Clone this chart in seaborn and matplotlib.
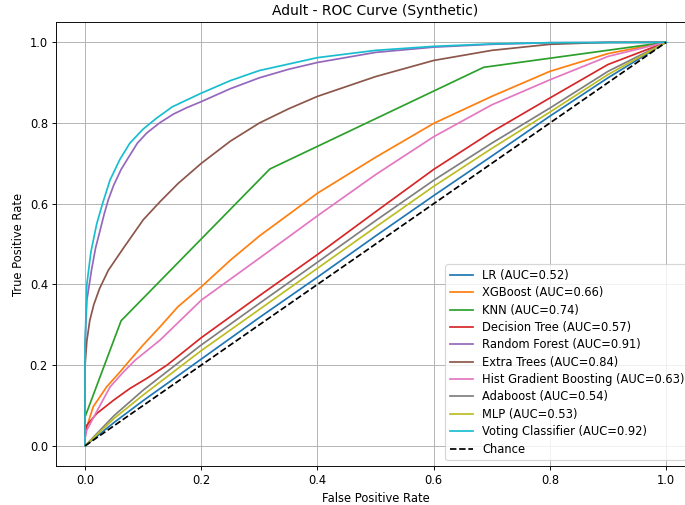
import matplotlib
matplotlib.use("Agg")
import matplotlib.pyplot as plt
import seaborn as sns

# ROC points (FPR, TPR)
lr_fpr = [0.0, 0.05, 0.1, 0.2, 0.3, 0.4, 0.5, 0.6, 0.7, 0.8, 0.9, 1.0]
lr_tpr = [0.0, 0.058, 0.112, 0.215, 0.318, 0.418, 0.52, 0.62, 0.718, 0.817, 0.912, 1.0]

xgb_fpr = [0.0, 0.0, 0.003, 0.014, 0.037, 0.06, 0.077, 0.1, 0.129, 0.16, 0.2, 0.25, 0.3, 0.4, 0.5, 0.6, 0.7, 0.8, 0.9, 1.0]
xgb_tpr = [0.0, 0.02, 0.047, 0.097, 0.146, 0.183, 0.212, 0.25, 0.295, 0.345, 0.394, 0.46, 0.52, 0.626, 0.715, 0.799, 0.866, 0.928, 0.972, 1.0]

knn_fpr = [0.0, 0.0, 0.062, 0.318, 0.686, 1.0]
knn_tpr = [0.0, 0.072, 0.31, 0.686, 0.938, 1.0]

dt_fpr = [0.0, 0.0, 0.003, 0.02, 0.049, 0.077, 0.106, 0.141, 0.2, 0.3, 0.4, 0.5, 0.6, 0.7, 0.8, 0.9, 1.0]
dt_tpr = [0.0, 0.03, 0.051, 0.08, 0.113, 0.142, 0.167, 0.2, 0.268, 0.372, 0.474, 0.58, 0.685, 0.778, 0.862, 0.945, 1.0]

rf_fpr = [0.0, 0.0, 0.003, 0.011, 0.018, 0.026, 0.033, 0.04, 0.049, 0.062, 0.077, 0.09, 0.106, 0.128, 0.152, 0.175, 0.2, 0.25, 0.3, 0.35, 0.4, 0.5, 0.6, 0.7, 0.8, 1.0]
rf_tpr = [0.0, 0.25, 0.36, 0.435, 0.49, 0.535, 0.575, 0.61, 0.645, 0.685, 0.72, 0.75, 0.775, 0.8, 0.822, 0.838, 0.853, 0.885, 0.912, 0.933, 0.95, 0.975, 0.988, 0.995, 0.999, 1.0]

et_fpr = [0.0, 0.0, 0.003, 0.008, 0.015, 0.025, 0.04, 0.066, 0.1, 0.129, 0.16, 0.2, 0.25, 0.3, 0.35, 0.4, 0.5, 0.6, 0.7, 0.8, 0.9, 1.0]
et_tpr = [0.0, 0.2, 0.26, 0.31, 0.35, 0.39, 0.435, 0.49, 0.56, 0.605, 0.65, 0.70, 0.755, 0.80, 0.835, 0.866, 0.915, 0.955, 0.98, 0.995, 1.0, 1.0]

hgb_fpr = [0.0, 0.0, 0.003, 0.02, 0.043, 0.066, 0.086, 0.129, 0.2, 0.3, 0.4, 0.5, 0.6, 0.7, 0.8, 0.9, 1.0]
hgb_tpr = [0.0, 0.02, 0.039, 0.085, 0.146, 0.183, 0.212, 0.262, 0.361, 0.465, 0.57, 0.672, 0.766, 0.845, 0.907, 0.965, 1.0]

ada_fpr = [0.0, 0.05, 0.1, 0.2, 0.3, 0.4, 0.5, 0.6, 0.7, 0.8, 0.9, 1.0]
ada_tpr = [0.0, 0.075, 0.138, 0.25, 0.353, 0.455, 0.558, 0.658, 0.75, 0.837, 0.928, 1.0]

mlp_fpr = [0.0, 0.05, 0.1, 0.2, 0.3, 0.4, 0.5, 0.6, 0.7, 0.8, 0.9, 1.0]
mlp_tpr = [0.0, 0.068, 0.126, 0.236, 0.338, 0.44, 0.542, 0.643, 0.737, 0.827, 0.92, 1.0]

vot_fpr = [0.0, 0.0, 0.003, 0.01, 0.02, 0.03, 0.043, 0.06, 0.077, 0.1, 0.123, 0.15, 0.2, 0.25, 0.3, 0.4, 0.5, 0.6, 0.7, 0.8, 1.0]
vot_tpr = [0.0, 0.25, 0.4, 0.48, 0.55, 0.6, 0.659, 0.71, 0.75, 0.785, 0.812, 0.84, 0.874, 0.905, 0.93, 0.962, 0.98, 0.99, 0.996, 0.999, 1.0]

model_names = ["LR", "XGBoost", "KNN", "Decision Tree", "Random Forest", "Extra Trees",
               "Hist Gradient Boosting", "Adaboost", "MLP", "Voting Classifier"]
auc_values = [0.52, 0.66, 0.74, 0.57, 0.91, 0.84, 0.63, 0.54, 0.53, 0.92]

curves = [(lr_fpr, lr_tpr), (xgb_fpr, xgb_tpr), (knn_fpr, knn_tpr), (dt_fpr, dt_tpr),
          (rf_fpr, rf_tpr), (et_fpr, et_tpr), (hgb_fpr, hgb_tpr), (ada_fpr, ada_tpr),
          (mlp_fpr, mlp_tpr), (vot_fpr, vot_tpr)]

# reference looks like a bigger figure shrunk down, so render at a lower dpi
fig = plt.figure(figsize=(685 / 83, 505 / 83), dpi=83)
ax = fig.add_axes([0.0818, 0.0772, 0.933, 0.879])

colors = plt.rcParams['axes.prop_cycle'].by_key()['color']
for i, (name, auc) in enumerate(zip(model_names, auc_values)):
    fpr, tpr = curves[i]
    sns.lineplot(x=fpr, y=tpr, ax=ax, label=f"{name} (AUC={auc:.2f})",
                 color=colors[i], estimator=None, sort=False, linewidth=1.5)

ax.plot([0, 1], [0, 1], 'k--', label='Chance')

ax.set_xlim(-0.05, 1.05)
ax.set_ylim(-0.05, 1.05)
ax.set_title('Adult - ROC Curve (Synthetic)')
ax.set_xlabel('False Positive Rate')
ax.set_ylabel('True Positive Rate')
ax.grid(True)
ax.legend(loc='lower right', labelspacing=0.38)

fig.savefig('out.png', dpi=83)
